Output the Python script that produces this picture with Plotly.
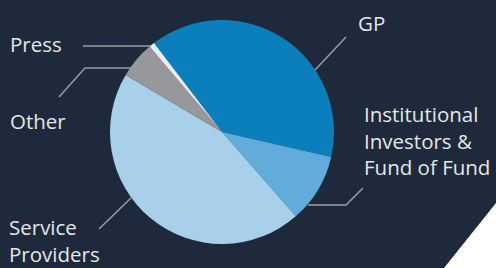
import plotly.graph_objects as go

W, H = 496, 268

labels = ["GP", "Institutional Investors & Fund of Fund", "Service Providers", "Other", "Press"]
values = [39, 10, 45, 5.3, 0.8]
colors = ["#0a7fbb", "#62acdc", "#a8d0ea", "#97989c", "#e9eef2"]

BG = "#1e2a3c"
LINE = "#9a9ca0"
TXT = "#e4e6e9"

def px(x):
    return x / W

def py(y):
    return 1 - y / H

fig = go.Figure()
fig.add_trace(go.Pie(
    labels=labels, values=values, sort=False, direction="clockwise",
    rotation=-37.4, textinfo="none", hoverinfo="label+percent",
    marker=dict(colors=colors, line=dict(width=0)),
    domain=dict(x=[px(110), px(334)], y=[py(244), py(20)]),
    showlegend=False,
))

# leader lines (pixel paths)
paths = [
    [(83, 46), (151, 46)],
    [(59, 97), (85, 68), (131, 68)],
    [(315, 70), (346, 37)],
    [(308, 205), (346, 205), (363, 188)],
    [(99, 229), (132, 197)],
]
shapes = []
for p in paths:
    d = "M " + " L ".join(f"{px(x)},{py(y)}" for x, y in p)
    shapes.append(dict(type="path", xref="paper", yref="paper", path=d,
                       line=dict(color=LINE, width=1.5)))
# white corner triangle
shapes.append(dict(type="path", xref="paper", yref="paper",
                   path=f"M {px(444)},{py(268)} L {px(496)},{py(203)} L {px(496)},{py(268)} Z",
                   fillcolor="#ffffff", line=dict(width=0), layer="below"))

texts = [
    ("Press", 9, 44),
    ("Other", 9, 121),
    ("GP", 357, 23),
    ("Institutional<br>Investors &<br>Fund of Fund", 363, 140),
    ("Service<br>Providers", 8, 240),
]
annotations = []
for t, x, y in texts:
    annotations.append(dict(text=t, x=px(x), y=py(y), xref="paper", yref="paper",
                            xanchor="left", yanchor="middle", align="left",
                            showarrow=False, borderpad=0,
                            font=dict(family="Open Sans", size=20.5, color=TXT)))

fig.update_layout(
    width=W, height=H, margin=dict(l=0, r=0, t=0, b=0),
    paper_bgcolor=BG, plot_bgcolor=BG,
    shapes=shapes, annotations=annotations,
)
fig.write_html("out.html", config={"displayModeBar": False},
               post_script="document.body.style.margin='0';document.body.style.overflow='hidden';")
